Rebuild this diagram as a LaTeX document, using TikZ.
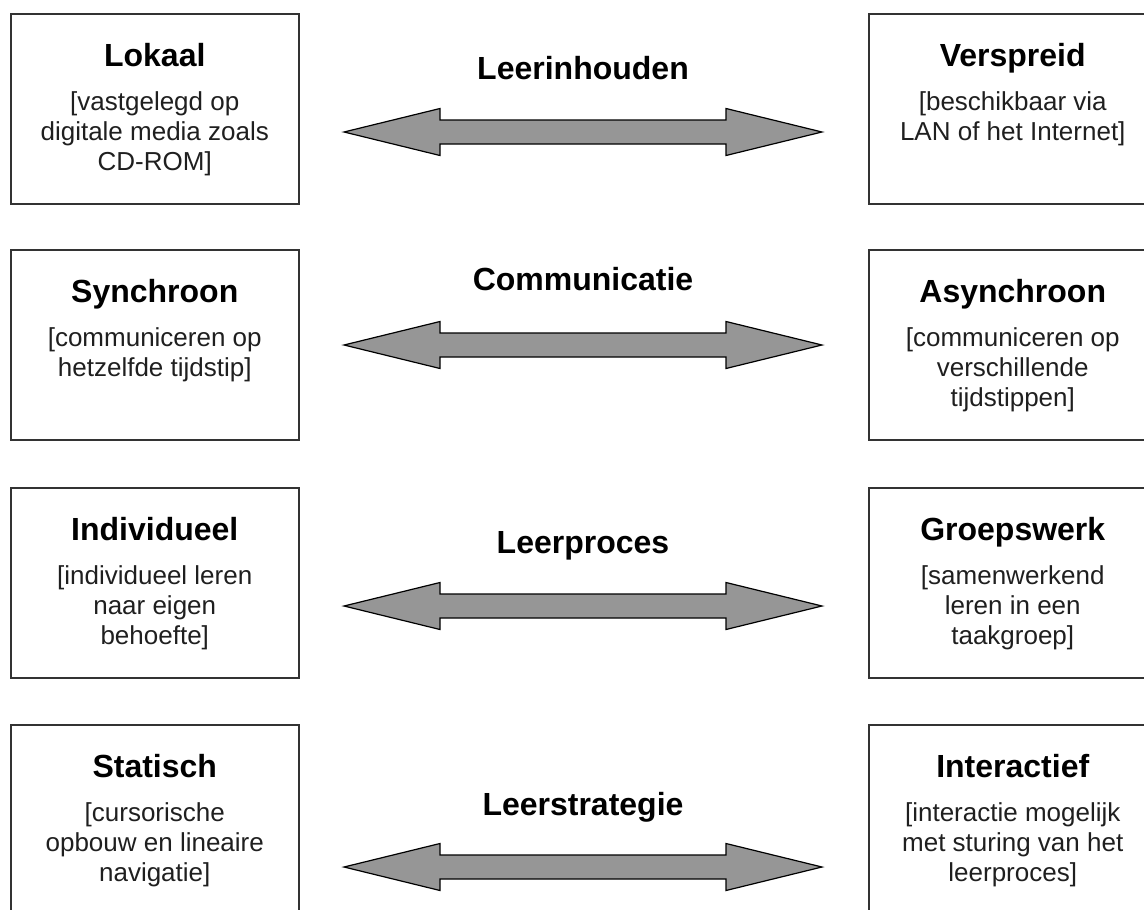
\documentclass[tikz,border=0pt]{standalone}
\usepackage{fontspec}
\setmainfont{Liberation Sans}
\tikzset{
  box/.style={draw=black!80, line width=1.5pt, minimum width=288pt, minimum height=190pt, inner sep=0pt, anchor=north west},
  ttl/.style={font=\fontsize{32}{36}\selectfont\bfseries, anchor=base, inner sep=0pt},
  sub/.style={font=\fontsize{26}{30}\selectfont, text=black!88, align=center, anchor=north, inner sep=0pt},
  lbl/.style={font=\fontsize{32}{36}\selectfont\bfseries, anchor=base, inner sep=0pt},
  barrow/.style={fill=black!41, draw=black, line width=1.2pt, line join=miter}
}
\newcommand\strt{\rule{0pt}{21pt}}
\newcommand\blockarrow[1]{%
  \begin{scope}[shift={(#1)}]
    \draw[barrow] (-239,0) -- (-143,-23.5) -- (-143,-12) -- (143,-12) -- (143,-23.5)
      -- (239,0) -- (143,23.5) -- (143,12) -- (-143,12) -- (-143,23.5) -- cycle;
  \end{scope}}
\begin{document}
\begin{tikzpicture}[x=1pt,y=-1pt]
\useasboundingbox (0,0) rectangle (1144,910);
\clip (0,0) rectangle (1144,910);
% row 1
\node[box] (L1) at (10,13) {};
\node[box] (R1) at (868,13) {};
\node[ttl] (L1t) at ([yshift=-53pt]L1.north) {Lokaal};
\node[sub] (L1s) at ([yshift=-76pt]L1.north) {\strt[vastgelegd op\\digitale media zoals\\CD-ROM]};
\node[ttl] (R1t) at ([yshift=-53pt]R1.north) {Verspreid};
\node[sub] (R1s) at ([yshift=-76pt]R1.north) {\strt[beschikbaar via\\LAN of het Internet]};
\node[lbl] (M1) at (583,79) {Leerinhouden};
\coordinate (A1) at (583,132);
\blockarrow{A1}
% row 2
\node[box] (L2) at (10,249) {};
\node[box] (R2) at (868,249) {};
\node[ttl] (L2t) at ([yshift=-53pt]L2.north) {Synchroon};
\node[sub] (L2s) at ([yshift=-76pt]L2.north) {\strt[communiceren op\\hetzelfde tijdstip]};
\node[ttl] (R2t) at ([yshift=-53pt]R2.north) {Asynchroon};
\node[sub] (R2s) at ([yshift=-76pt]R2.north) {\strt[communiceren op\\verschillende\\tijdstippen]};
\node[lbl] (M2) at (583,290) {Communicatie};
\coordinate (A2) at (583,345);
\blockarrow{A2}
% row 3
\node[box] (L3) at (10,487) {};
\node[box] (R3) at (868,487) {};
\node[ttl] (L3t) at ([yshift=-53pt]L3.north) {Individueel};
\node[sub] (L3s) at ([yshift=-76pt]L3.north) {\strt[individueel leren\\naar eigen\\behoefte]};
\node[ttl] (R3t) at ([yshift=-53pt]R3.north) {Groepswerk};
\node[sub] (R3s) at ([yshift=-76pt]R3.north) {\strt[samenwerkend\\leren in een\\taakgroep]};
\node[lbl] (M3) at (583,553) {Leerproces};
\coordinate (A3) at (583,606);
\blockarrow{A3}
% row 4
\node[box] (L4) at (10,724) {};
\node[box] (R4) at (868,724) {};
\node[ttl] (L4t) at ([yshift=-53pt]L4.north) {Statisch};
\node[sub] (L4s) at ([yshift=-76pt]L4.north) {\strt[cursorische\\opbouw en lineaire\\navigatie]};
\node[ttl] (R4t) at ([yshift=-53pt]R4.north) {Interactief};
\node[sub] (R4s) at ([yshift=-76pt]R4.north) {\strt[interactie mogelijk\\met sturing van het\\leerproces]};
\node[lbl] (M4) at (583,815) {Leerstrategie};
\coordinate (A4) at (583,867);
\blockarrow{A4}
\end{tikzpicture}
\end{document}
